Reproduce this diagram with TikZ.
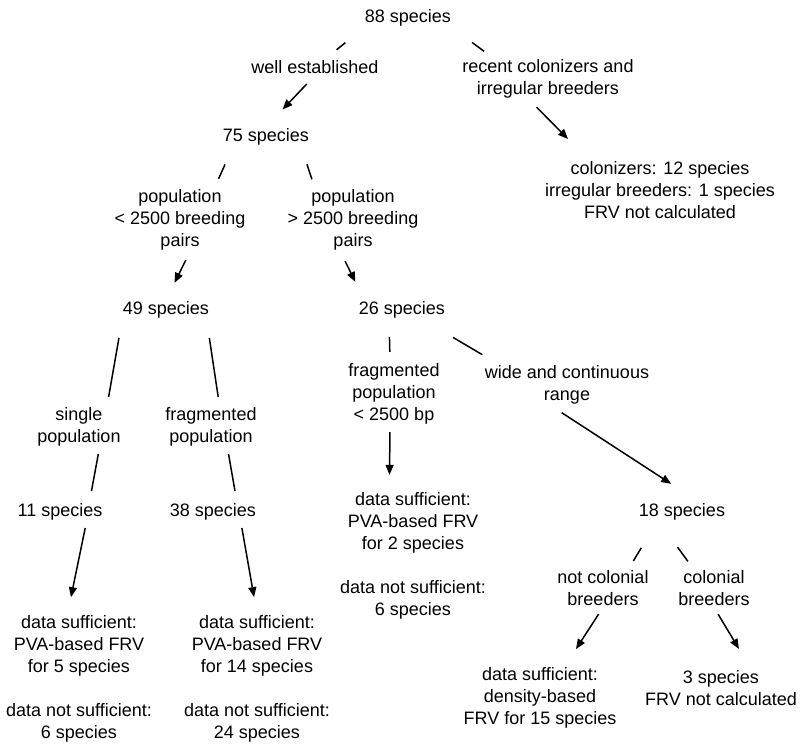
\documentclass[tikz,border=0pt]{standalone}
\usepackage{fontspec}
\setmainfont{Liberation Sans}
\usetikzlibrary{arrows.meta,positioning}

\begin{document}
\begin{tikzpicture}[>={Triangle[length=10pt,width=8pt]}, line width=1.5pt, on grid, main/.style = {align=center, inner sep=1pt, font=\fontsize{18}{22}\selectfont}]
  \useasboundingbox (0pt,0pt) rectangle (801pt,-747pt);

  % Top of the tree
  \node[main] (sp88) at (408pt,-18pt) {88 species};
  \node[main] (well_est) [below left=49pt and 93pt of sp88] {well established};
  \node[main] (recent) [below right=61pt and 140pt of sp88] {recent colonizers and\\irregular breeders};
  \node[main] (colon) [below right=111pt and 112pt of recent] {colonizers: 12 species\\irregular breeders: 1 species\\FRV not calculated};
  \node[main] (sp75) [below left=70pt and 49pt of well_est] {75 species};

  % Population size
  \node[main] (pop_lo) [below left=83pt and 86pt of sp75] {population\\< 2500 breeding\\pairs};
  \node[main] (pop_hi) [below right=83pt and 87pt of sp75] {population\\> 2500 breeding\\pairs};
  \node[main] (sp49) [below left=90pt and 14pt of pop_lo] {49 species};
  \node[main] (sp26) [below right=90pt and 49pt of pop_hi] {26 species};

  % Small populations
  \node[main] (single) [below left=117pt and 87pt of sp49] {single\\population};
  \node[main] (frag_lo) [below right=117pt and 45pt of sp49] {fragmented\\population};
  \node[main] (sp11) [below left=85pt and 19pt of single] {11 species};
  \node[main] (sp38) [below right=85pt and 2pt of frag_lo] {38 species};
  \node[main] (suff_11) [below right=167pt and 19pt of sp11] {data sufficient:\\PVA-based FRV\\for 5 species\\[22pt]data not sufficient:\\6 species};
  \node[main] (suff_38) [below right=167pt and 44pt of sp38] {data sufficient:\\PVA-based FRV\\for 14 species\\[22pt]data not sufficient:\\24 species};

  % Large populations
  \node[main] (frag_bp) [below left=84pt and 8pt of sp26] {fragmented\\population\\< 2500 bp};
  \node[main] (wide) [below right=75pt and 165pt of sp26] {wide and continuous\\range};
  \node[main] (suff_bp) [below right=162pt and 19pt of frag_bp] {data sufficient:\\PVA-based FRV\\for 2 species\\[22pt]data not sufficient:\\6 species};
  \node[main] (sp18) [below right=127pt and 115pt of wide] {18 species};
  \node[main] (not_col) [below left=76pt and 79pt of sp18] {not colonial\\breeders};
  \node[main] (col) [below right=76pt and 32pt of sp18] {colonial\\breeders};
  \node[main] (dens) [below left=110pt and 63pt of not_col] {data sufficient:\\density-based\\FRV for 15 species};
  \node[main] (sp3) [below right=100pt and 7pt of col] {3 species\\FRV not calculated};

  % Upper links
  \path
        (sp88.south west) edge[shorten <=23pt, shorten >=14pt] (well_est.38)
        (sp88.south east) edge[shorten <=24pt, shorten >=11pt] (recent.159)
        (well_est.south) edge[->, shorten <=12pt, shorten >=24pt] (sp75.north)
        (recent.-131) edge[->, shorten <=10pt, shorten >=29pt] (colon.157)
        (sp75.-163) edge[shorten <=19pt, shorten >=10pt] (pop_lo.43)
        (sp75.-16) edge[shorten <=18pt, shorten >=9pt] (pop_hi.140)
        (pop_lo.-73) edge[->, shorten <=9pt, shorten >=19pt] (sp49.north)
        (pop_hi.-111) edge[->, shorten <=10pt, shorten >=20pt] (sp26.165);

  % Left branch
  \path
        (sp49.-167) edge[shorten <=18pt, shorten >=9pt] (single.37)
        (sp49.-14) edge[shorten <=18pt, shorten >=9pt] (frag_lo.68)
        (single.-46) edge[shorten <=6pt, shorten >=11pt] (sp11.19)
        (frag_lo.-52) edge[shorten <=6pt, shorten >=11pt] (sp38.23)
        (sp11.-21) edge[->, shorten <=6pt, shorten >=17pt] (suff_11.100)
        (sp38.-20) edge[->, shorten <=6pt, shorten >=17pt] (suff_38.north);

  % Right branch
  \path
        (sp26.-142) edge[shorten <=17pt, shorten >=10pt] (frag_bp.97)
        (sp26.-25) edge[shorten <=34pt, shorten >=18pt] (wide.163)
        (frag_bp.-97) edge[->, shorten <=6pt, shorten >=16pt] (suff_bp.110)
        (wide.-126) edge[->, shorten <=12pt, shorten >=33pt] (sp18.31)
        (sp18.-158) edge[shorten <=30pt, shorten >=9pt] (not_col.37)
        (sp18.-156) edge[shorten <=31pt, shorten >=9pt] (col.137)
        (not_col.south) edge[->, shorten <=8pt, shorten >=20pt] (dens.52)
        (col.south) edge[->, shorten <=8pt, shorten >=23pt] (sp3.33);

\end{tikzpicture}
\end{document}
